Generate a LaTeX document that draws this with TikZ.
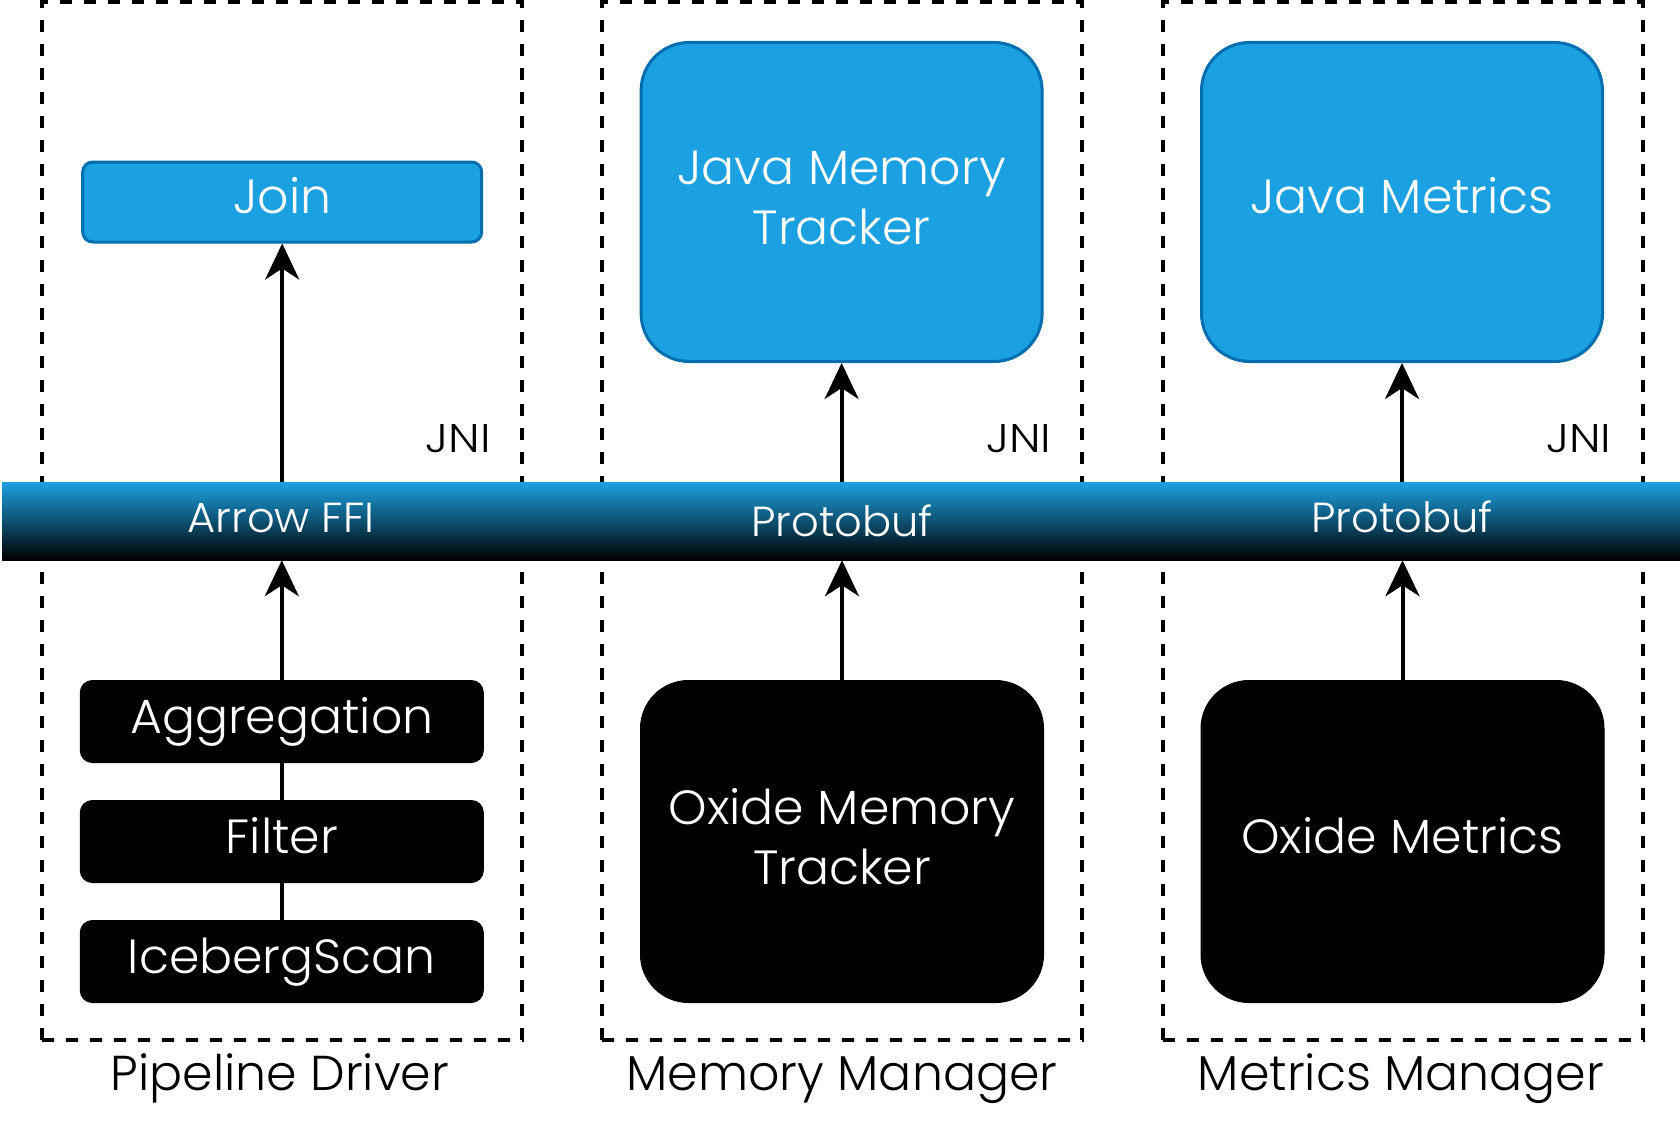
\documentclass[tikz,border=0pt]{standalone}
\usepackage{fontspec}
\setmainfont{Poppins Light}
\newfontfamily\boxfont{Poppins Light}[FakeStretch=1.02]
\newfontfamily\jnifont{Poppins Light}[FakeStretch=1.15]
\newfontfamily\bandfont{Poppins Light}[FakeStretch=1.03]
\usetikzlibrary{arrows.meta}
\definecolor{jblue}{HTML}{1BA1E2}
\definecolor{jborder}{HTML}{006EAF}
\tikzset{
  px/.style={x=1pt,y=-1pt},
  group/.style={draw, line width=4pt, dash pattern=on 12pt off 12pt, minimum width=480pt, minimum height=1038pt, inner sep=0pt},
  boxtext/.style={text=white, align=center, inner sep=0pt, font=\boxfont\fontsize{48}{60}\selectfont},
  oneline/.style={text height=35pt, text depth=12pt},
  javabox/.style={boxtext, draw=jborder, fill=jblue, line width=3pt},
  oxbox/.style={boxtext, draw=black, fill=black, line width=1pt},
  opbox/.style={oxbox, oneline, minimum width=403pt, minimum height=82pt, rounded corners=12pt},
  bandlabel/.style={text=white, font=\bandfont\fontsize{42}{50}\selectfont, inner sep=0pt},
  jnilabel/.style={font=\jnifont\fontsize{40}{48}\selectfont, inner sep=0pt, anchor=base},
  grouplabel/.style={font=\fontsize{49}{58}\selectfont, inner sep=0pt, anchor=base},
  arr/.style={line width=4pt, -{Stealth[length=36pt, width=34pt, inset=11pt]}},
  link/.style={line width=4pt}
}
\begin{document}
\begin{tikzpicture}[px]
\useasboundingbox (0,0) rectangle (1680,1124);
% groups
\node[group] (g1) at (281.8,521) {};
\node[group] (g2) at (842,521) {};
\node[group] (g3) at (1402.5,521) {};
% band
\node[minimum width=1678pt, minimum height=78pt, inner sep=0pt, top color=jblue, bottom color=black] (band) at (841,521) {};
\node[bandlabel] (l1) at (281,518) {Arrow FFI};
\node[bandlabel] (l2) at (842,521) {Protobuf};
\node[bandlabel] (l3) at (1402,517) {Protobuf};
% java side
\node[javabox, oneline, minimum width=399pt, minimum height=80pt, rounded corners=10pt] (join) at (282.2,202) {Join};
\node[javabox, minimum width=401pt, minimum height=319pt, rounded corners=48pt] (jmt) at (841.6,202) {};
\node[boxtext] (jmtt) at ([yshift=4.5pt]jmt.center) {Java Memory\\Tracker};
\node[javabox, oneline, minimum width=401pt, minimum height=319pt, rounded corners=48pt] (jm) at (1402,202) {Java Metrics};
% oxide side
\node[opbox] (agg) at (281.8,721.5) {Aggregation};
\node[opbox] (filter) at (281.8,841.5) {Filter};
\node[opbox] (ice) at (281.8,961.5) {IcebergScan};
\node[oxbox, minimum width=403pt, minimum height=322pt, rounded corners=48pt] (omt) at (842,841.5) {};
\node[boxtext] (omtt) at ([yshift=5pt]omt.center) {Oxide Memory\\Tracker};
\node[oxbox, oneline, minimum width=403pt, minimum height=322pt, rounded corners=48pt] (om) at (1402.5,841.5) {Oxide Metrics};
% labels
\node[jnilabel] (j1) at (458.5,452) {JNI};
\node[jnilabel] (j2) at (1018.7,452) {JNI};
\node[jnilabel] (j3) at (1578.9,452) {JNI};
\node[grouplabel] (n1) at (280,1090) {Pipeline Driver};
\node[grouplabel] (n2) at (842,1090) {Memory Manager};
\node[grouplabel] (n3) at (1401,1090) {Metrics Manager};
% connectors
\draw[arr] (band.north -| join.south) -- (join.south);
\draw[arr] (band.north -| jmt.south) -- (jmt.south);
\draw[arr] (band.north -| jm.south) -- (jm.south);
\draw[arr] (agg.north) -- (agg.north |- band.south);
\draw[arr] (omt.north) -- (omt.north |- band.south);
\draw[arr] (om.north) -- (om.north |- band.south);
\draw[link] (agg.south) -- (filter.north);
\draw[link] (filter.south) -- (ice.north);
\end{tikzpicture}
\end{document}
